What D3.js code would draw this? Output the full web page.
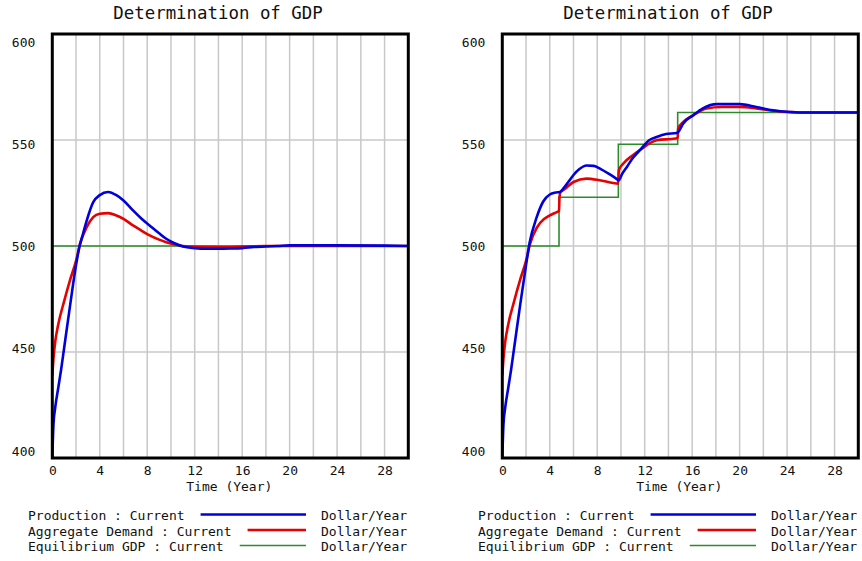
<!DOCTYPE html>
<html>
<head>
<meta charset="utf-8">
<script src="https://cdn.jsdelivr.net/npm/d3@7"></script>
<style>
  body { margin: 0; background: #fff; }
  text { font-family: "DejaVu Sans Mono", "Liberation Mono", monospace; fill: #111; }
</style>
</head>
<body>
<div id="canvas"></div>
<script>
// ---- data ----
var chartTitle = 'Determination of GDP';
var xTicks = [0, 4, 8, 12, 16, 20, 24, 28];
var yTicks = [400, 450, 500, 550, 600];

// left panel
var prodLeftT = [0, 0.1, 0.25, 0.5, 0.75, 1, 1.5, 2, 2.3, 2.6, 2.9, 3.45, 4, 4.7, 5.4, 6, 6.8, 7.5, 8.2, 9, 9.6, 10.3, 11, 12, 13, 14, 15, 16, 17, 18, 19, 20, 24, 28, 30];
var prodLeftV = [400, 416, 424, 433, 442, 452, 472, 491, 500, 506, 512, 520.7, 524, 525.5, 524, 521.5, 516.8, 513, 509.7, 506, 503.4, 501.3, 499.8, 499, 498.7, 498.7, 498.8, 499, 499.5, 499.8, 500, 500.3, 500.3, 500.2, 500];
var demLeftT = [0, 0.1, 0.25, 0.5, 1, 1.5, 2, 2.34, 2.9, 3.45, 4, 4.7, 5.4, 6, 6.8, 7.5, 8.2, 9, 9.6, 10.3, 11, 12, 14, 16, 18, 30];
var demLeftV = [439, 447, 455, 463, 474, 484, 493, 501, 508.9, 513.6, 515.2, 515.5, 514.4, 512.8, 509.7, 507.3, 505, 503, 501.8, 500.7, 500, 499.6, 499.5, 499.7, 500, 500];
var eqLeftT = [0, 30];
var eqLeftV = [500, 500];

// right panel
var prodRightT = [0, 0.1, 0.25, 0.5, 0.75, 1, 1.5, 2, 2.3, 2.9, 3.45, 4, 4.5, 4.85, 5.2, 5.6, 6, 6.5, 7.1, 7.7, 8.3, 9, 9.6, 9.8, 10.1, 10.5, 11, 11.6, 12.4, 13, 13.8, 14.7, 14.85, 15.25, 16.1, 16.9, 18.1, 20, 21.4, 22.8, 24.2, 25, 30];
var prodRightV = [400, 416, 424, 433, 442, 452, 472, 491, 501.5, 513.6, 521, 524.3, 525.2, 525.5, 527.5, 530.5, 533.5, 536.3, 538, 537.8, 536.3, 534, 531.8, 531, 534, 537.3, 541.5, 545.2, 550, 551.4, 552.8, 553.3, 554, 557.8, 561.7, 564.9, 566.9, 566.9, 565.6, 564, 563.2, 563, 563];
var demRightT = [0, 0.1, 0.25, 0.5, 1, 1.5, 2, 2.34, 2.9, 3.2, 4, 4.6, 4.78, 4.82, 4.9, 5.3, 6, 7.1, 8.2, 9.35, 9.75, 9.82, 10.2, 11, 11.65, 13, 14.6, 14.78, 14.82, 15.25, 16.1, 17.2, 18.5, 20, 21.4, 22.8, 24.2, 25, 30];
var demRightV = [439, 447, 455, 463, 474, 484, 493, 501, 508.5, 511, 514.4, 516, 516.5, 523, 525.3, 527, 530.2, 531.8, 531, 529.7, 529.4, 535.7, 538.9, 542.8, 545.5, 549.9, 550.7, 551, 555.4, 558.5, 561.7, 564.9, 565.6, 565.6, 564.9, 563.8, 563.2, 563, 563];
var eqRightT = [0, 4.78, 9.78, 14.78, 30];
var eqRightV = [500, 523, 548, 563, 563];

var legendNames = ['Production : Current', 'Aggregate Demand : Current', 'Equilibrium GDP : Current'];
var legendUnits = 'Dollar/Year';
var seriesColors = ['#0000dc', '#e60000', '#2c8c2c'];

// ---- layout ----
var W = 862, H = 561;
var m = {l: 52.3, t: 34},
    w = 356, h = 424;
var fontSmall = '13px', charW = 7.83;

var svg = d3.select('#canvas').append('svg')
    .attr('width', W).attr('height', H);

var x = d3.scaleLinear().domain([0, 30]).range([0, w]);
var y = d3.scaleLinear().domain([400, 600]).range([h, 0]);
// tick labels are spread so the top one sits inside the frame and the bottom one above the axis
var yLab = d3.scaleLinear().domain([400, 600]).range([h - 7, 8]);

function zip(ts, vs) {
    return ts.map(function(t, i) { return {t: t, v: vs[i]}; });
}

function drawPanel(offset, series, id) {
    var panel = svg.append('g').attr('transform', 'translate(' + offset + ',0)');

    // title
    panel.append('text')
        .attr('x', 218).attr('y', 19)
        .attr('text-anchor', 'middle')
        .style('font-size', '17.4px')
        .text(chartTitle);

    var plot = panel.append('g').attr('transform', 'translate(' + m.l + ',' + m.t + ')');

    plot.append('defs').append('clipPath').attr('id', 'clip' + id)
        .append('rect').attr('width', w).attr('height', h);

    // grid
    plot.selectAll('.vgrid')
        .data(d3.range(2, 30, 2))
        .enter().append('line')
        .attr('x1', function(d) { return x(d); }).attr('x2', function(d) { return x(d); })
        .attr('y1', 0).attr('y2', h)
        .style('stroke', '#c8c8c8').style('stroke-width', 1.5);
    plot.selectAll('.hgrid')
        .data([450, 500, 550])
        .enter().append('line')
        .attr('x1', 0).attr('x2', w)
        .attr('y1', function(d) { return y(d); }).attr('y2', function(d) { return y(d); })
        .style('stroke', '#c8c8c8').style('stroke-width', 1.5);

    // lines
    var line = d3.line()
        .x(function(d) { return x(d.t); })
        .y(function(d) { return y(d.v); });

    var lines = plot.append('g').attr('clip-path', 'url(#clip' + id + ')');
    // draw green first, blue on top
    [2, 1, 0].forEach(function(i) {
        var s = series[i];
        lines.append('path')
            .datum(zip(s.t, s.v))
            .attr('d', line.curve(i === 2 ? d3.curveStepAfter : d3.curveMonotoneX))
            .style('fill', 'none')
            .style('stroke', seriesColors[i])
            .style('stroke-width', i === 2 ? 1.6 : 2.6);
    });

    // frame
    plot.append('rect')
        .attr('width', w).attr('height', h)
        .style('fill', 'none').style('stroke', '#000').style('stroke-width', 3);

    // axes
    var xAxis = plot.append('g')
        .attr('transform', 'translate(0,' + h + ')')
        .call(d3.axisBottom(x).tickValues(xTicks).tickSize(0).tickPadding(7.5));
    xAxis.select('.domain').remove();
    xAxis.selectAll('text')
        .style('font-size', fontSmall).style('font-family', '"DejaVu Sans Mono", monospace').style('fill', '#111');

    var yAxis = plot.append('g')
        .call(d3.axisLeft(yLab).tickValues(yTicks).tickSize(0).tickPadding(17));
    yAxis.select('.domain').remove();
    yAxis.selectAll('text')
        .style('font-size', fontSmall).style('font-family', '"DejaVu Sans Mono", monospace').style('fill', '#111');

    plot.append('text')
        .attr('x', w / 2 - 1).attr('y', h + 33)
        .attr('text-anchor', 'middle')
        .style('font-size', fontSmall)
        .text('Time (Year)');

    // legend
    var rowsY = [520, 535.5, 551];
    legendNames.forEach(function(name, i) {
        panel.append('text')
            .attr('x', 28).attr('y', rowsY[i])
            .style('font-size', fontSmall)
            .text(name);
        var end = 28 + name.length * charW;
        panel.append('line')
            .attr('x1', end + 16).attr('x2', 306)
            .attr('y1', rowsY[i] - 5.5).attr('y2', rowsY[i] - 5.5)
            .style('stroke', seriesColors[i])
            .style('stroke-width', i === 2 ? 1.6 : 2.6);
        panel.append('text')
            .attr('x', 321).attr('y', rowsY[i])
            .style('font-size', fontSmall)
            .text(legendUnits);
    });
}

drawPanel(0, [
    {t: prodLeftT, v: prodLeftV},
    {t: demLeftT, v: demLeftV},
    {t: eqLeftT, v: eqLeftV}
], 'L');

drawPanel(450, [
    {t: prodRightT, v: prodRightV},
    {t: demRightT, v: demRightV},
    {t: eqRightT, v: eqRightV}
], 'R');
</script>
</body>
</html>
